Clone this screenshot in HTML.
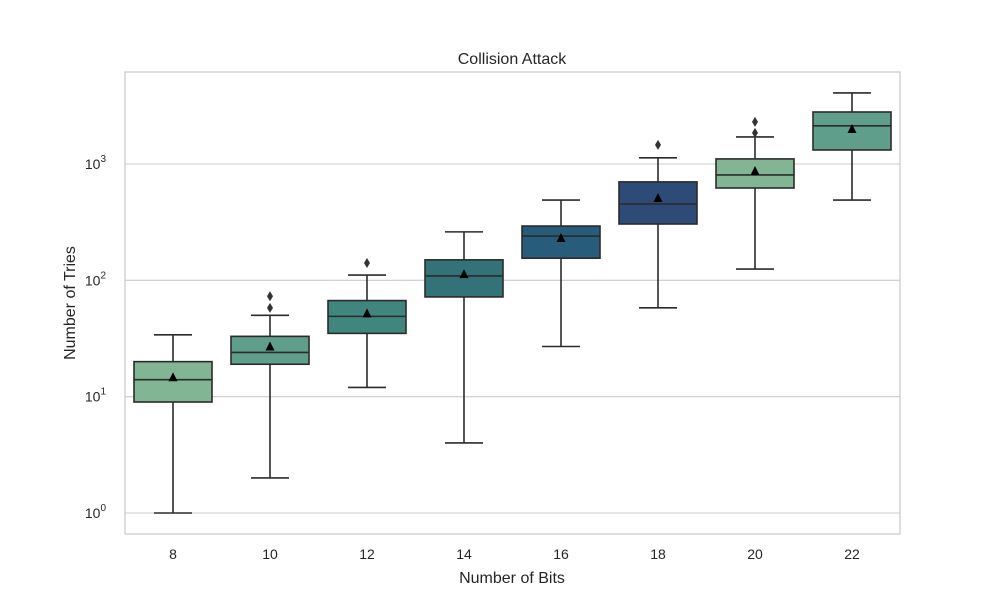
<!DOCTYPE html>
<html><head><meta charset="utf-8"><style>
body{margin:0;background:#fff;font-family:"Liberation Sans","DejaVu Sans",sans-serif;}
</style></head><body>
<svg id="chart" width="1000" height="600" xmlns="http://www.w3.org/2000/svg">
<rect width="1000" height="600" fill="#fff"/>
<text x="512" y="64" text-anchor="middle" font-size="16" fill="#262626">Collision Attack</text>
<g id="grid"></g>
<g id="boxes"></g>
<rect x="125" y="72" width="775" height="462" fill="none" stroke="#cccccc" stroke-width="1.3"/>
<g id="ticks"></g>
<text x="512" y="583" text-anchor="middle" font-size="16" fill="#262626">Number of Bits</text>
<text x="75" y="303" text-anchor="middle" font-size="16" fill="#262626" transform="rotate(-90 75 303)">Number of Tries</text>
</svg>
<script>
const categories=["8","10","12","14","16","18","20","22"];
const whiskLow=[1,2,12,4,27,58,125,490];
const q1=[9,19,35,72,155,305,622,1320];
const median=[14,24,49,109,240,454,806,2130];
const q3=[20,33,67,150,293,702,1106,2800];
const whiskHigh=[34,50,111,261,490,1130,1710,4080];
const means=[14.7,27,52,113,231,510,870,2000];
const outliers=[[],[58,73],[141],[],[],[1460],[1850,2300],[]];
const colors=["#82b593","#5f9e8a","#40867f","#337279","#275d7a","#2d4b76","#82b593","#5f9e8a"];
const yTicks=[0,1,2,3];
const NS="http://www.w3.org/2000/svg";
function y(v){return 513-116.33*Math.log10(v);}
function x(i){return 173+97*i;}
function mk(t,a,p){const e=document.createElementNS(NS,t);for(const k in a)e.setAttribute(k,a[k]);p.appendChild(e);return e;}
const grid=document.getElementById('grid'),ticks=document.getElementById('ticks'),boxes=document.getElementById('boxes');
yTicks.forEach(p=>{
 const yy=y(Math.pow(10,p));
 const l=mk('line',{x1:125,x2:900,y1:yy,y2:yy,stroke:'#cccccc','stroke-width':1.1},grid);
 
 
 const t=mk('text',{x:106,y:yy+5,'text-anchor':'end','font-size':14,fill:'#262626'},ticks);
 
 
 t.textContent='10';
 const s=mk('tspan',{dy:-7,'font-size':10},t);s.textContent=String(p);
});
categories.forEach((c,i)=>{
 const t=mk('text',{x:x(i),y:559,'text-anchor':'middle','font-size':14,fill:'#262626'},ticks);
 
 
 t.textContent=c;
 const g=mk('g',{},boxes);
 
 
 const cx=x(i),w=78,st='#2b2b2b';
 mk('line',{x1:cx,x2:cx,y1:y(whiskLow[i]),y2:y(q1[i]),stroke:st,'stroke-width':1.6},g);
 mk('line',{x1:cx,x2:cx,y1:y(q3[i]),y2:y(whiskHigh[i]),stroke:st,'stroke-width':1.6},g);
 mk('line',{x1:cx-19,x2:cx+19,y1:y(whiskLow[i]),y2:y(whiskLow[i]),stroke:st,'stroke-width':1.6},g);
 mk('line',{x1:cx-19,x2:cx+19,y1:y(whiskHigh[i]),y2:y(whiskHigh[i]),stroke:st,'stroke-width':1.6},g);
 mk('rect',{x:cx-w/2,y:y(q3[i]),width:w,height:y(q1[i])-y(q3[i]),fill:colors[i],stroke:st,'stroke-width':1.6},g);
 mk('line',{x1:cx-w/2,x2:cx+w/2,y1:y(median[i]),y2:y(median[i]),stroke:st,'stroke-width':1.6},g);
 const my=y(means[i]);
 mk('polygon',{points:`${cx},${my-5} ${cx-4.5},${my+4} ${cx+4.5},${my+4}`,fill:'#000'},g);
 outliers[i].forEach(o=>{const oy=y(o);
  mk('polygon',{points:`${cx},${oy-5} ${cx+3},${oy} ${cx},${oy+5} ${cx-3},${oy}`,fill:'#333'},g);});
});
</script>
</body></html>
